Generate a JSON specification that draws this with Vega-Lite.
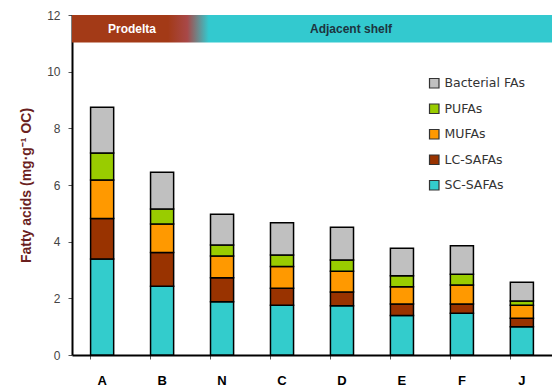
{
  "$schema": "https://vega.github.io/schema/vega-lite/v6.json",
  "width": 480,
  "height": 340,
  "autosize": {"type": "none"},
  "padding": {"left": 72, "top": 15, "right": 0, "bottom": 34},
  "background": "white",
  "config": {"view": {"stroke": null}, "font": "Liberation Sans"},
  "datasets": {
    "fa": [
      {"site": "A", "type": "SC-SAFAs", "value": 3.39},
      {"site": "A", "type": "LC-SAFAs", "value": 1.43},
      {"site": "A", "type": "MUFAs", "value": 1.36},
      {"site": "A", "type": "PUFAs", "value": 0.95},
      {"site": "A", "type": "Bacterial FAs", "value": 1.61},
      {"site": "B", "type": "SC-SAFAs", "value": 2.43},
      {"site": "B", "type": "LC-SAFAs", "value": 1.19},
      {"site": "B", "type": "MUFAs", "value": 1.0},
      {"site": "B", "type": "PUFAs", "value": 0.53},
      {"site": "B", "type": "Bacterial FAs", "value": 1.3},
      {"site": "N", "type": "SC-SAFAs", "value": 1.88},
      {"site": "N", "type": "LC-SAFAs", "value": 0.85},
      {"site": "N", "type": "MUFAs", "value": 0.76},
      {"site": "N", "type": "PUFAs", "value": 0.39},
      {"site": "N", "type": "Bacterial FAs", "value": 1.09},
      {"site": "C", "type": "SC-SAFAs", "value": 1.76},
      {"site": "C", "type": "LC-SAFAs", "value": 0.6},
      {"site": "C", "type": "MUFAs", "value": 0.76},
      {"site": "C", "type": "PUFAs", "value": 0.41},
      {"site": "C", "type": "Bacterial FAs", "value": 1.14},
      {"site": "D", "type": "SC-SAFAs", "value": 1.74},
      {"site": "D", "type": "LC-SAFAs", "value": 0.48},
      {"site": "D", "type": "MUFAs", "value": 0.74},
      {"site": "D", "type": "PUFAs", "value": 0.39},
      {"site": "D", "type": "Bacterial FAs", "value": 1.16},
      {"site": "E", "type": "SC-SAFAs", "value": 1.39},
      {"site": "E", "type": "LC-SAFAs", "value": 0.41},
      {"site": "E", "type": "MUFAs", "value": 0.61},
      {"site": "E", "type": "PUFAs", "value": 0.39},
      {"site": "E", "type": "Bacterial FAs", "value": 0.97},
      {"site": "F", "type": "SC-SAFAs", "value": 1.47},
      {"site": "F", "type": "LC-SAFAs", "value": 0.33},
      {"site": "F", "type": "MUFAs", "value": 0.67},
      {"site": "F", "type": "PUFAs", "value": 0.38},
      {"site": "F", "type": "Bacterial FAs", "value": 1.01},
      {"site": "J", "type": "SC-SAFAs", "value": 1.0},
      {"site": "J", "type": "LC-SAFAs", "value": 0.3},
      {"site": "J", "type": "MUFAs", "value": 0.46},
      {"site": "J", "type": "PUFAs", "value": 0.15},
      {"site": "J", "type": "Bacterial FAs", "value": 0.66}
    ],
    "zone": [{"from": 0, "to": 8, "low": 11.03, "high": 12}],
    "prodelta": [{"pos": 1, "level": 11.5, "label": "Prodelta"}],
    "shelf": [{"pos": 4.65, "level": 11.5, "label": "Adjacent shelf"}]
  },
  "layer": [
    {
      "data": {"name": "fa"},
      "transform": [
        {"calculate": "indexof(['SC-SAFAs','LC-SAFAs','MUFAs','PUFAs','Bacterial FAs'], datum.type)", "as": "stackorder"}
      ],
      "mark": {"type": "bar", "stroke": "black", "strokeWidth": 1.5},
      "encoding": {
        "x": {
          "field": "site", "type": "nominal", "sort": ["A", "B", "N", "C", "D", "E", "F", "J"],
          "scale": {"paddingInner": 0.615, "paddingOuter": 0.31},
          "axis": {
            "title": null, "labelAngle": 0, "labelFontWeight": "bold", "labelFontSize": 13,
            "labelColor": "black", "domainColor": "black", "domainWidth": 2,
            "tickColor": "#555", "tickSize": 4, "bandPosition": 0, "labelPadding": 15
          }
        },
        "y": {
          "field": "value", "type": "quantitative", "stack": "zero",
          "scale": {"domain": [0, 12], "nice": false},
          "axis": {
            "title": "Fatty acids (mg·g⁻¹ OC)", "titleColor": "#6b1f1f", "titleFontSize": 14,
            "titleFontWeight": "bold", "titlePadding": 13,
            "values": [0, 2, 4, 6, 8, 10, 12], "grid": false,
            "labelFontSize": 12, "labelColor": "#444", "labelPadding": 8,
            "domainColor": "black", "domainWidth": 2, "tickColor": "#555", "tickSize": 4
          }
        },
        "color": {
          "field": "type", "type": "nominal",
          "scale": {
            "domain": ["Bacterial FAs", "PUFAs", "MUFAs", "LC-SAFAs", "SC-SAFAs"],
            "range": ["#C0C0C0", "#99CC00", "#FF9900", "#993300", "#33CCCC"]
          },
          "legend": {
            "title": null, "orient": "none", "legendX": 356, "legendY": 62,
            "padding": 0,
            "symbolType": "square", "symbolSize": 90, "symbolStrokeColor": "#333",
            "symbolStrokeWidth": 1.2, "symbolOpacity": 1, "labelOffset": 4,
            "labelFont": "DejaVu Sans", "labelFontSize": 12.5, "labelColor": "#333", "rowPadding": 10.5
          }
        },
        "order": {"field": "stackorder", "type": "quantitative"}
      }
    },
    {
      "data": {"name": "zone"},
      "mark": {
        "type": "rect",
        "color": {
          "gradient": "linear", "x1": 0, "x2": 1, "y1": 0, "y2": 0,
          "stops": [
            {"offset": 0, "color": "#A33A17"},
            {"offset": 0.2, "color": "#A33A17"},
            {"offset": 0.24, "color": "#A84848"},
            {"offset": 0.285, "color": "#33C9CF"},
            {"offset": 1, "color": "#33C9CF"}
          ]
        }
      },
      "encoding": {
        "x": {"field": "from", "type": "quantitative", "scale": {"domain": [0, 8], "nice": false}, "axis": null},
        "x2": {"field": "to"},
        "y": {"field": "low", "type": "quantitative"},
        "y2": {"field": "high"}
      }
    },
    {
      "data": {"name": "prodelta"},
      "mark": {"type": "text", "color": "white", "fontWeight": "bold", "fontSize": 12, "align": "center", "baseline": "middle"},
      "encoding": {
        "x": {"field": "pos", "type": "quantitative", "scale": {"domain": [0, 8], "nice": false}, "axis": null},
        "y": {"field": "level", "type": "quantitative"},
        "text": {"field": "label"}
      }
    },
    {
      "data": {"name": "shelf"},
      "mark": {"type": "text", "color": "#1d3440", "fontWeight": "bold", "fontSize": 12, "align": "center", "baseline": "middle"},
      "encoding": {
        "x": {"field": "pos", "type": "quantitative", "scale": {"domain": [0, 8], "nice": false}, "axis": null},
        "y": {"field": "level", "type": "quantitative"},
        "text": {"field": "label"}
      }
    }
  ],
  "resolve": {"scale": {"x": "independent"}}
}
